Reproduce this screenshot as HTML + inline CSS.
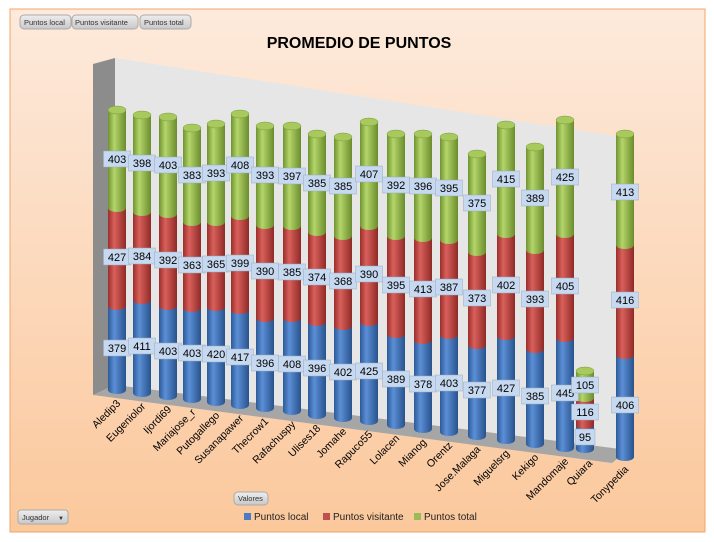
<!DOCTYPE html>
<html><head><meta charset="utf-8"><style>
body{margin:0;background:#fff;}
svg{display:block;font-family:"Liberation Sans",sans-serif;}
.b{fill:url(#gB)}.r{fill:url(#gR)}.g{fill:url(#gG)}
.tp{fill:#a7c95d;stroke:#7c9c3a;stroke-width:.5}
.l{fill:#c6d9f0;stroke:#9ab;stroke-width:.5}
.t{font-size:11px;text-anchor:middle;fill:#000}
.x{font-size:10.5px;text-anchor:end;fill:#000}
</style></head><body>
<svg width="714" height="542" xmlns="http://www.w3.org/2000/svg">
<defs>
<linearGradient id="bg" x1="0" y1="0" x2="0" y2="1"><stop offset="0" stop-color="#fdeadc"/><stop offset="1" stop-color="#fbc89c"/></linearGradient>
<linearGradient id="gG" x1="0" x2="1"><stop offset="0" stop-color="#6f9330"/><stop offset=".35" stop-color="#b4d56a"/><stop offset="1" stop-color="#6a8c2c"/></linearGradient>
<linearGradient id="gR" x1="0" x2="1"><stop offset="0" stop-color="#9a2e2b"/><stop offset=".35" stop-color="#d9605b"/><stop offset="1" stop-color="#8f2a27"/></linearGradient>
<linearGradient id="gB" x1="0" x2="1"><stop offset="0" stop-color="#2d5a98"/><stop offset=".35" stop-color="#5b8fd6"/><stop offset="1" stop-color="#28528c"/></linearGradient>
<linearGradient id="btn" x1="0" y1="0" x2="0" y2="1"><stop offset="0" stop-color="#eee"/><stop offset="1" stop-color="#c8c8c8"/></linearGradient>
</defs>
<rect x="10" y="9" width="695" height="523" fill="url(#bg)" stroke="#f2a46a" stroke-width="1"/>
<g font-size="7.5" fill="#333">
<rect x="20" y="15" width="51" height="14" rx="4" fill="url(#btn)" stroke="#aaa"/><text x="24" y="25">Puntos local</text>
<rect x="72" y="15" width="66" height="14" rx="4" fill="url(#btn)" stroke="#aaa"/><text x="75" y="25">Puntos visitante</text>
<rect x="140" y="15" width="51" height="14" rx="4" fill="url(#btn)" stroke="#aaa"/><text x="144" y="25">Puntos total</text>
<rect x="234" y="492" width="34" height="13" rx="4" fill="url(#btn)" stroke="#aaa"/><text x="238" y="501">Valores</text>
<rect x="18" y="510" width="50" height="14" rx="3" fill="url(#btn)" stroke="#aaa"/><text x="22" y="520">Jugador</text><text x="58" y="520" font-size="6">▼</text>
</g>
<text x="359" y="48" text-anchor="middle" font-size="16" font-weight="bold" fill="#000">PROMEDIO DE PUNTOS</text>
<polygon points="93,64 115,58 115,385 93,395" fill="#8c8c8c"/>
<polygon points="115,58 628,138 628,450 115,385" fill="#e6e6e6"/>
<polygon points="93,395 115,385 628,450 612,463" fill="#a6a6a6"/>

<g transform="translate(117,0)"><rect class="b" x="-9" y="306" width="18" height="84"/><ellipse class="b" cy="390" rx="9" ry="4"/><rect class="r" x="-9" y="208" width="18" height="98"/><ellipse class="r" cy="306" rx="9" ry="4"/><rect class="g" x="-9" y="110" width="18" height="98"/><ellipse class="g" cy="208" rx="9" ry="4"/><ellipse class="tp" cy="110" rx="9" ry="4"/></g>
<g transform="translate(142,0)"><rect class="b" x="-9" y="300" width="18" height="93"/><ellipse class="b" cy="393" rx="9" ry="4"/><rect class="r" x="-9" y="212" width="18" height="88"/><ellipse class="r" cy="300" rx="9" ry="4"/><rect class="g" x="-9" y="115" width="18" height="97"/><ellipse class="g" cy="212" rx="9" ry="4"/><ellipse class="tp" cy="115" rx="9" ry="4"/></g>
<g transform="translate(168,0)"><rect class="b" x="-9" y="306" width="18" height="90"/><ellipse class="b" cy="396" rx="9" ry="4"/><rect class="r" x="-9" y="214" width="18" height="92"/><ellipse class="r" cy="306" rx="9" ry="4"/><rect class="g" x="-9" y="117" width="18" height="97"/><ellipse class="g" cy="214" rx="9" ry="4"/><ellipse class="tp" cy="117" rx="9" ry="4"/></g>
<g transform="translate(192,0)"><rect class="b" x="-9" y="308" width="18" height="91"/><ellipse class="b" cy="399" rx="9" ry="4"/><rect class="r" x="-9" y="222" width="18" height="86"/><ellipse class="r" cy="308" rx="9" ry="4"/><rect class="g" x="-9" y="128" width="18" height="94"/><ellipse class="g" cy="222" rx="9" ry="4"/><ellipse class="tp" cy="128" rx="9" ry="4"/></g>
<g transform="translate(216,0)"><rect class="b" x="-9" y="307" width="18" height="95"/><ellipse class="b" cy="402" rx="9" ry="4"/><rect class="r" x="-9" y="222" width="18" height="85"/><ellipse class="r" cy="307" rx="9" ry="4"/><rect class="g" x="-9" y="124" width="18" height="98"/><ellipse class="g" cy="222" rx="9" ry="4"/><ellipse class="tp" cy="124" rx="9" ry="4"/></g>
<g transform="translate(240,0)"><rect class="b" x="-9" y="310" width="18" height="95"/><ellipse class="b" cy="405" rx="9" ry="4"/><rect class="r" x="-9" y="216" width="18" height="94"/><ellipse class="r" cy="310" rx="9" ry="4"/><rect class="g" x="-9" y="114" width="18" height="102"/><ellipse class="g" cy="216" rx="9" ry="4"/><ellipse class="tp" cy="114" rx="9" ry="4"/></g>
<g transform="translate(265,0)"><rect class="b" x="-9" y="318" width="18" height="90"/><ellipse class="b" cy="408" rx="9" ry="4"/><rect class="r" x="-9" y="225" width="18" height="93"/><ellipse class="r" cy="318" rx="9" ry="4"/><rect class="g" x="-9" y="126" width="18" height="99"/><ellipse class="g" cy="225" rx="9" ry="4"/><ellipse class="tp" cy="126" rx="9" ry="4"/></g>
<g transform="translate(292,0)"><rect class="b" x="-9" y="318" width="18" height="93"/><ellipse class="b" cy="411" rx="9" ry="4"/><rect class="r" x="-9" y="226" width="18" height="92"/><ellipse class="r" cy="318" rx="9" ry="4"/><rect class="g" x="-9" y="126" width="18" height="100"/><ellipse class="g" cy="226" rx="9" ry="4"/><ellipse class="tp" cy="126" rx="9" ry="4"/></g>
<g transform="translate(317,0)"><rect class="b" x="-9" y="322" width="18" height="93"/><ellipse class="b" cy="415" rx="9" ry="4"/><rect class="r" x="-9" y="232" width="18" height="90"/><ellipse class="r" cy="322" rx="9" ry="4"/><rect class="g" x="-9" y="134" width="18" height="98"/><ellipse class="g" cy="232" rx="9" ry="4"/><ellipse class="tp" cy="134" rx="9" ry="4"/></g>
<g transform="translate(343,0)"><rect class="b" x="-9" y="326" width="18" height="92"/><ellipse class="b" cy="418" rx="9" ry="4"/><rect class="r" x="-9" y="236" width="18" height="90"/><ellipse class="r" cy="326" rx="9" ry="4"/><rect class="g" x="-9" y="137" width="18" height="99"/><ellipse class="g" cy="236" rx="9" ry="4"/><ellipse class="tp" cy="137" rx="9" ry="4"/></g>
<g transform="translate(369,0)"><rect class="b" x="-9" y="322" width="18" height="99"/><ellipse class="b" cy="421" rx="9" ry="4"/><rect class="r" x="-9" y="226" width="18" height="96"/><ellipse class="r" cy="322" rx="9" ry="4"/><rect class="g" x="-9" y="122" width="18" height="104"/><ellipse class="g" cy="226" rx="9" ry="4"/><ellipse class="tp" cy="122" rx="9" ry="4"/></g>
<g transform="translate(396,0)"><rect class="b" x="-9" y="334" width="18" height="91"/><ellipse class="b" cy="425" rx="9" ry="4"/><rect class="r" x="-9" y="236" width="18" height="98"/><ellipse class="r" cy="334" rx="9" ry="4"/><rect class="g" x="-9" y="134" width="18" height="102"/><ellipse class="g" cy="236" rx="9" ry="4"/><ellipse class="tp" cy="134" rx="9" ry="4"/></g>
<g transform="translate(423,0)"><rect class="b" x="-9" y="340" width="18" height="89"/><ellipse class="b" cy="429" rx="9" ry="4"/><rect class="r" x="-9" y="238" width="18" height="102"/><ellipse class="r" cy="340" rx="9" ry="4"/><rect class="g" x="-9" y="134" width="18" height="104"/><ellipse class="g" cy="238" rx="9" ry="4"/><ellipse class="tp" cy="134" rx="9" ry="4"/></g>
<g transform="translate(449,0)"><rect class="b" x="-9" y="335" width="18" height="97"/><ellipse class="b" cy="432" rx="9" ry="4"/><rect class="r" x="-9" y="240" width="18" height="95"/><ellipse class="r" cy="335" rx="9" ry="4"/><rect class="g" x="-9" y="137" width="18" height="103"/><ellipse class="g" cy="240" rx="9" ry="4"/><ellipse class="tp" cy="137" rx="9" ry="4"/></g>
<g transform="translate(477,0)"><rect class="b" x="-9" y="345" width="18" height="91"/><ellipse class="b" cy="436" rx="9" ry="4"/><rect class="r" x="-9" y="252" width="18" height="93"/><ellipse class="r" cy="345" rx="9" ry="4"/><rect class="g" x="-9" y="154" width="18" height="98"/><ellipse class="g" cy="252" rx="9" ry="4"/><ellipse class="tp" cy="154" rx="9" ry="4"/></g>
<g transform="translate(506,0)"><rect class="b" x="-9" y="336" width="18" height="104"/><ellipse class="b" cy="440" rx="9" ry="4"/><rect class="r" x="-9" y="234" width="18" height="102"/><ellipse class="r" cy="336" rx="9" ry="4"/><rect class="g" x="-9" y="125" width="18" height="109"/><ellipse class="g" cy="234" rx="9" ry="4"/><ellipse class="tp" cy="125" rx="9" ry="4"/></g>
<g transform="translate(535,0)"><rect class="b" x="-9" y="349" width="18" height="95"/><ellipse class="b" cy="444" rx="9" ry="4"/><rect class="r" x="-9" y="250" width="18" height="99"/><ellipse class="r" cy="349" rx="9" ry="4"/><rect class="g" x="-9" y="147" width="18" height="103"/><ellipse class="g" cy="250" rx="9" ry="4"/><ellipse class="tp" cy="147" rx="9" ry="4"/></g>
<g transform="translate(565,0)"><rect class="b" x="-9" y="338" width="18" height="110"/><ellipse class="b" cy="448" rx="9" ry="4"/><rect class="r" x="-9" y="234" width="18" height="104"/><ellipse class="r" cy="338" rx="9" ry="4"/><rect class="g" x="-9" y="120" width="18" height="114"/><ellipse class="g" cy="234" rx="9" ry="4"/><ellipse class="tp" cy="120" rx="9" ry="4"/></g>
<g transform="translate(585,0)"><rect class="b" x="-9" y="425" width="18" height="24"/><ellipse class="b" cy="449" rx="9" ry="4"/><rect class="r" x="-9" y="398" width="18" height="27"/><ellipse class="r" cy="425" rx="9" ry="4"/><rect class="g" x="-9" y="371" width="18" height="27"/><ellipse class="g" cy="398" rx="9" ry="4"/><ellipse class="tp" cy="371" rx="9" ry="4"/></g>
<g transform="translate(625,0)"><rect class="b" x="-9" y="355" width="18" height="102"/><ellipse class="b" cy="457" rx="9" ry="4"/><rect class="r" x="-9" y="245" width="18" height="110"/><ellipse class="r" cy="355" rx="9" ry="4"/><rect class="g" x="-9" y="134" width="18" height="111"/><ellipse class="g" cy="245" rx="9" ry="4"/><ellipse class="tp" cy="134" rx="9" ry="4"/></g>

<g transform="translate(117,0)"><rect class="l" x="-13.5" y="151" width="27" height="16"/><text class="t" y="163">403</text><rect class="l" x="-13.5" y="249" width="27" height="16"/><text class="t" y="261">427</text><rect class="l" x="-13.5" y="340" width="27" height="16"/><text class="t" y="352">379</text></g>
<g transform="translate(142,0)"><rect class="l" x="-13.5" y="155" width="27" height="16"/><text class="t" y="167">398</text><rect class="l" x="-13.5" y="248" width="27" height="16"/><text class="t" y="260">384</text><rect class="l" x="-13.5" y="338" width="27" height="16"/><text class="t" y="350">411</text></g>
<g transform="translate(168,0)"><rect class="l" x="-13.5" y="157" width="27" height="16"/><text class="t" y="169">403</text><rect class="l" x="-13.5" y="252" width="27" height="16"/><text class="t" y="264">392</text><rect class="l" x="-13.5" y="343" width="27" height="16"/><text class="t" y="355">403</text></g>
<g transform="translate(192,0)"><rect class="l" x="-13.5" y="167" width="27" height="16"/><text class="t" y="179">383</text><rect class="l" x="-13.5" y="257" width="27" height="16"/><text class="t" y="269">363</text><rect class="l" x="-13.5" y="345" width="27" height="16"/><text class="t" y="357">403</text></g>
<g transform="translate(216,0)"><rect class="l" x="-13.5" y="165" width="27" height="16"/><text class="t" y="177">393</text><rect class="l" x="-13.5" y="256" width="27" height="16"/><text class="t" y="268">365</text><rect class="l" x="-13.5" y="346" width="27" height="16"/><text class="t" y="358">420</text></g>
<g transform="translate(240,0)"><rect class="l" x="-13.5" y="157" width="27" height="16"/><text class="t" y="169">408</text><rect class="l" x="-13.5" y="255" width="27" height="16"/><text class="t" y="267">399</text><rect class="l" x="-13.5" y="349" width="27" height="16"/><text class="t" y="361">417</text></g>
<g transform="translate(265,0)"><rect class="l" x="-13.5" y="167" width="27" height="16"/><text class="t" y="179">393</text><rect class="l" x="-13.5" y="263" width="27" height="16"/><text class="t" y="275">390</text><rect class="l" x="-13.5" y="355" width="27" height="16"/><text class="t" y="367">396</text></g>
<g transform="translate(292,0)"><rect class="l" x="-13.5" y="168" width="27" height="16"/><text class="t" y="180">397</text><rect class="l" x="-13.5" y="264" width="27" height="16"/><text class="t" y="276">385</text><rect class="l" x="-13.5" y="356" width="27" height="16"/><text class="t" y="368">408</text></g>
<g transform="translate(317,0)"><rect class="l" x="-13.5" y="175" width="27" height="16"/><text class="t" y="187">385</text><rect class="l" x="-13.5" y="269" width="27" height="16"/><text class="t" y="281">374</text><rect class="l" x="-13.5" y="360" width="27" height="16"/><text class="t" y="372">396</text></g>
<g transform="translate(343,0)"><rect class="l" x="-13.5" y="178" width="27" height="16"/><text class="t" y="190">385</text><rect class="l" x="-13.5" y="273" width="27" height="16"/><text class="t" y="285">368</text><rect class="l" x="-13.5" y="364" width="27" height="16"/><text class="t" y="376">402</text></g>
<g transform="translate(369,0)"><rect class="l" x="-13.5" y="166" width="27" height="16"/><text class="t" y="178">407</text><rect class="l" x="-13.5" y="266" width="27" height="16"/><text class="t" y="278">390</text><rect class="l" x="-13.5" y="363" width="27" height="16"/><text class="t" y="375">425</text></g>
<g transform="translate(396,0)"><rect class="l" x="-13.5" y="177" width="27" height="16"/><text class="t" y="189">392</text><rect class="l" x="-13.5" y="277" width="27" height="16"/><text class="t" y="289">395</text><rect class="l" x="-13.5" y="371" width="27" height="16"/><text class="t" y="383">389</text></g>
<g transform="translate(423,0)"><rect class="l" x="-13.5" y="178" width="27" height="16"/><text class="t" y="190">396</text><rect class="l" x="-13.5" y="281" width="27" height="16"/><text class="t" y="293">413</text><rect class="l" x="-13.5" y="376" width="27" height="16"/><text class="t" y="388">378</text></g>
<g transform="translate(449,0)"><rect class="l" x="-13.5" y="180" width="27" height="16"/><text class="t" y="192">395</text><rect class="l" x="-13.5" y="279" width="27" height="16"/><text class="t" y="291">387</text><rect class="l" x="-13.5" y="375" width="27" height="16"/><text class="t" y="387">403</text></g>
<g transform="translate(477,0)"><rect class="l" x="-13.5" y="195" width="27" height="16"/><text class="t" y="207">375</text><rect class="l" x="-13.5" y="290" width="27" height="16"/><text class="t" y="302">373</text><rect class="l" x="-13.5" y="382" width="27" height="16"/><text class="t" y="394">377</text></g>
<g transform="translate(506,0)"><rect class="l" x="-13.5" y="171" width="27" height="16"/><text class="t" y="183">415</text><rect class="l" x="-13.5" y="277" width="27" height="16"/><text class="t" y="289">402</text><rect class="l" x="-13.5" y="380" width="27" height="16"/><text class="t" y="392">427</text></g>
<g transform="translate(535,0)"><rect class="l" x="-13.5" y="190" width="27" height="16"/><text class="t" y="202">389</text><rect class="l" x="-13.5" y="291" width="27" height="16"/><text class="t" y="303">393</text><rect class="l" x="-13.5" y="388" width="27" height="16"/><text class="t" y="400">385</text></g>
<g transform="translate(565,0)"><rect class="l" x="-13.5" y="169" width="27" height="16"/><text class="t" y="181">425</text><rect class="l" x="-13.5" y="278" width="27" height="16"/><text class="t" y="290">405</text><rect class="l" x="-13.5" y="385" width="27" height="16"/><text class="t" y="397">445</text></g>
<g transform="translate(585,0)"><rect class="l" x="-13.5" y="377" width="27" height="16"/><text class="t" y="389">105</text><rect class="l" x="-13.5" y="404" width="27" height="16"/><text class="t" y="416">116</text><rect class="l" x="-10" y="429" width="20" height="16"/><text class="t" y="441">95</text></g>
<g transform="translate(625,0)"><rect class="l" x="-13.5" y="184" width="27" height="16"/><text class="t" y="196">413</text><rect class="l" x="-13.5" y="292" width="27" height="16"/><text class="t" y="304">416</text><rect class="l" x="-13.5" y="397" width="27" height="16"/><text class="t" y="409">406</text></g>

<text class="x" transform="translate(121,404) rotate(-45)">Aledip3</text>
<text class="x" transform="translate(146,407) rotate(-45)">Eugeniolor</text>
<text class="x" transform="translate(172,410) rotate(-45)">Ijordi69</text>
<text class="x" transform="translate(196,413) rotate(-45)">Mariajose_r</text>
<text class="x" transform="translate(220,416) rotate(-45)">Putogallego</text>
<text class="x" transform="translate(244,419) rotate(-45)">Susanapawer</text>
<text class="x" transform="translate(269,422) rotate(-45)">Thecrow1</text>
<text class="x" transform="translate(296,425) rotate(-45)">Rafachuspy</text>
<text class="x" transform="translate(321,429) rotate(-45)">Ulises18</text>
<text class="x" transform="translate(347,432) rotate(-45)">Jomahe</text>
<text class="x" transform="translate(373,435) rotate(-45)">Rapuco55</text>
<text class="x" transform="translate(400,439) rotate(-45)">Lolacen</text>
<text class="x" transform="translate(427,443) rotate(-45)">Mianog</text>
<text class="x" transform="translate(453,446) rotate(-45)">Orentz</text>
<text class="x" transform="translate(481,450) rotate(-45)">Jose.Malaga</text>
<text class="x" transform="translate(510,454) rotate(-45)">Miguelsrg</text>
<text class="x" transform="translate(539,458) rotate(-45)">Kekigo</text>
<text class="x" transform="translate(569,462) rotate(-45)">Mandomaje</text>
<text class="x" transform="translate(593,464) rotate(-45)">Quiara</text>
<text class="x" transform="translate(629,470) rotate(-45)">Tonypedia</text>

<g font-size="10" fill="#222">
<rect x="244" y="513" width="7" height="7" fill="#4a7cc4"/><text x="254" y="520">Puntos local</text>
<rect x="323" y="513" width="7" height="7" fill="#c0504d"/><text x="333" y="520">Puntos visitante</text>
<rect x="414" y="513" width="7" height="7" fill="#9bbb59"/><text x="424" y="520">Puntos total</text>
</g>
</svg>
</body></html>
